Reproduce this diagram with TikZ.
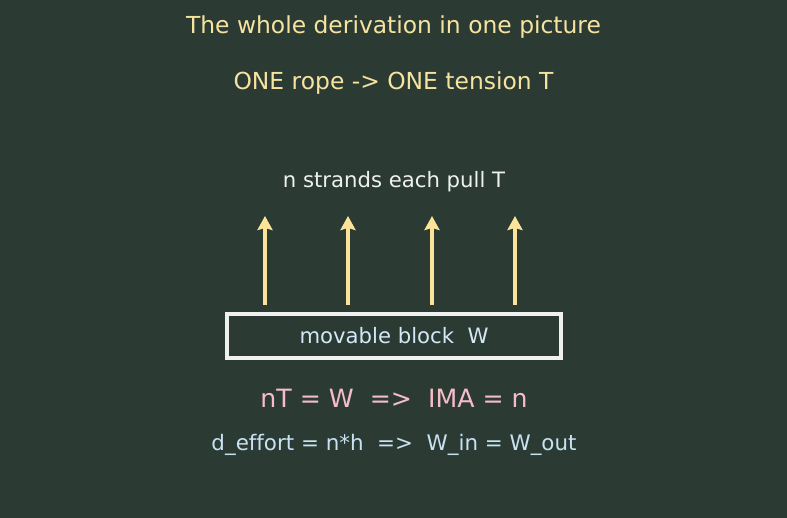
\documentclass[tikz,border=0pt]{standalone}
\usepackage{fontspec}
\setmainfont{DejaVu Sans}[Ligatures=NoCommon]
\definecolor{bgcol}{HTML}{2B3B34}
\definecolor{titlecol}{HTML}{F7E3A0}
\definecolor{notecol}{HTML}{EEF1F0}
\definecolor{blockcol}{HTML}{D4E8F5}
\definecolor{eqcol}{HTML}{F5BCCB}
\definecolor{workcol}{HTML}{C8E2F2}
\definecolor{pullcol}{HTML}{FBE39A}
\usetikzlibrary{arrows.meta}
\tikzset{
  title/.style={text=titlecol, font=\fontsize{11.7}{14}\selectfont, inner sep=0pt},
  pullarrow/.style={-{Stealth[length=7pt,width=7.5pt,inset=1pt]}, pullcol, line width=1.9pt},
  blockbox/.style={draw=notecol, line width=1.6pt, minimum width=167pt, minimum height=22pt,
    text=blockcol, font=\fontsize{10.6}{12}\selectfont}
}
\begin{document}
\begin{tikzpicture}[x=0.5pt, y=-0.5pt]

  % --- sfondo ---
  \fill[bgcol] (0,0) rectangle (787,518);
  \useasboundingbox (0,0) rectangle (787,518);

  % --- titoli ---
  \node[title] (tit) at (393.5,27) {The whole derivation in one picture};
  \node[title] (rope) at (393.5,83) {ONE rope -> ONE tension T};

  % --- fili ---
  \node[text=notecol, font=\fontsize{10.6}{12}\selectfont, inner sep=0pt] (strands) at (394,182) {n strands each pull T};

  % --- blocco mobile ---
  \node[blockbox] (block) at (394,336) {movable block\ \ W};

  % --- frecce delle tensioni ---
  \foreach \i/\x in {1/265, 2/348, 3/432, 4/515} {
    \coordinate (b\i) at (\x,305);
    \coordinate (t\i) at (\x,216);
    \draw[pullarrow] (b\i) -- (t\i);
  }

  % --- equazioni ---
  \node[text=eqcol, font=\fontsize{12.6}{14}\selectfont, inner sep=0pt] (ima) at (394,398) {nT = W\ \ =>\ \ IMA = n};
  \node[text=workcol, font=\fontsize{10.7}{12}\selectfont, inner sep=0pt] (work) at (394,445) {d\_effort = n*h\ \ =>\ \ W\_in = W\_out};

\end{tikzpicture}
\end{document}
